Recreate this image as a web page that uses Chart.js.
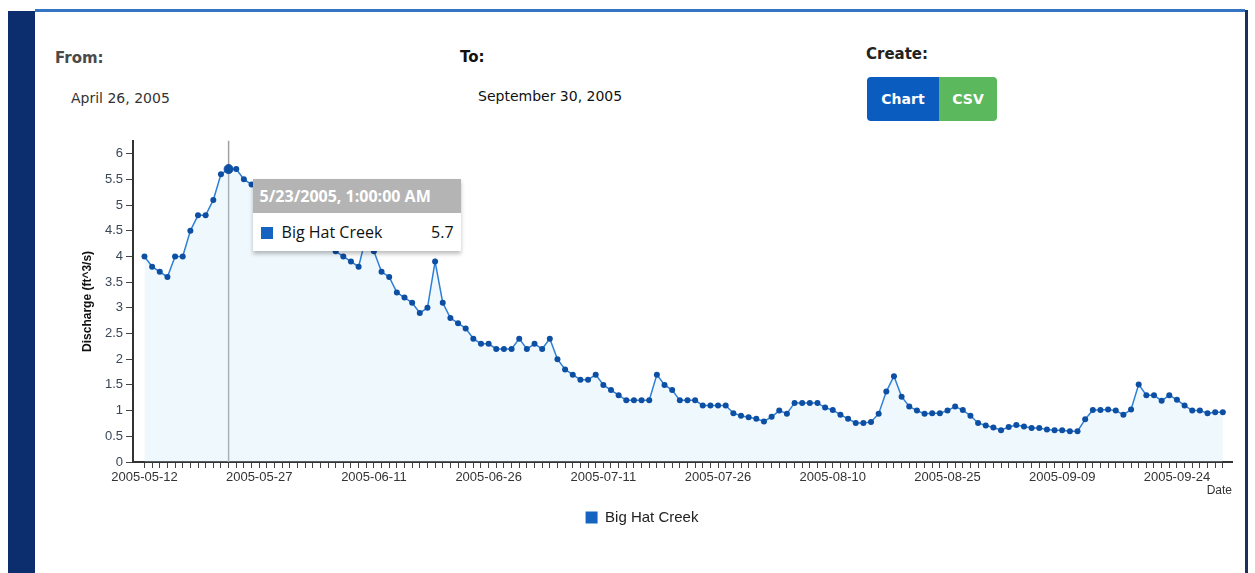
<!DOCTYPE html>
<html>
<head>
<meta charset="utf-8">
<script src="https://cdn.jsdelivr.net/npm/chart.js@4.4.0/dist/chart.umd.min.js"></script>
<style>
  body { margin: 0; width: 1255px; height: 573px; background: #fff; position: relative; overflow: hidden; font-family: "DejaVu Sans", sans-serif; }
  .abs { position: absolute; }
  .lbl { font-weight: bold; font-size: 15px; }
  .val { font-size: 14px; }
  .btn { top: 77px; height: 44px; line-height: 44px; color: #fff; font-weight: bold; font-size: 14px; text-align: center; }
  #wrap { left: 52px; top: 130px; width: 1193px; height: 420px; }
  #tip { display: none; width: 208px; box-shadow: 0 3px 4px rgba(0,0,0,0.25); font-family: "Open Sans", sans-serif; }
  #tip .head { background: #b4b4b4; color: #fff; font-weight: bold; font-size: 16px; height: 34px; line-height: 34px; padding-left: 7px; }
  #tip .body { background: #fff; height: 38px; line-height: 38px; font-size: 16px; color: #111; position: relative; padding-left: 8px; }
  #tip .sq { display: inline-block; width: 12px; height: 12px; background: #1565c0; margin-right: 9px; vertical-align: -1px; }
  #tip .num { position: absolute; right: 7px; top: 0; }
</style>
</head>
<body>
<div class="abs" style="left:35px; top:9px; width:1210px; height:3px; background:#3474c2;"></div>
<div class="abs" style="left:8px; top:11px; width:27px; height:562px; background:#0c2d6e;"></div>
<div class="abs" style="left:1245px; top:10px; width:3px; height:563px; background:#1a2f5e;"></div>

<div class="abs lbl" style="left:55px; top:49px; color:#4a4a4a;">From:</div>
<div class="abs val" style="left:71px; top:90px; color:#333;">April 26, 2005</div>
<div class="abs lbl" style="left:460px; top:48px; color:#111;">To:</div>
<div class="abs val" style="left:478px; top:88px; color:#111;">September 30, 2005</div>
<div class="abs lbl" style="left:866px; top:45px; color:#222;">Create:</div>
<div class="abs btn" style="left:867px; width:72px; background:#0b5cbf; border-radius:4px 0 0 4px;">Chart</div>
<div class="abs btn" style="left:939px; width:58px; background:#5cb85c; border-radius:0 4px 4px 0;">CSV</div>

<div id="wrap" class="abs"><canvas id="chart"></canvas></div>
<div id="tip" class="abs"></div>

<script>
const seriesName = 'Big Hat Creek';
const startDate = [2005, 4, 12];   // 2005-05-12, one reading per day
const tickLabels = ['2005-05-12', '2005-05-27', '2005-06-11', '2005-06-26', '2005-07-11',
                    '2005-07-26', '2005-08-10', '2005-08-25', '2005-09-09', '2005-09-24'];
const yTicks = [0, 0.5, 1, 1.5, 2, 2.5, 3, 3.5, 4, 4.5, 5, 5.5, 6];

// daily discharge, May 12 - Sep 30 2005 (May 27 - Jun 7 partly hidden by the tooltip, estimated)
const discharge = [
  4.0, 3.8, 3.7, 3.6, 4.0, 4.0, 4.5, 4.8, 4.8, 5.1, 5.6, 5.7, 5.7, 5.5, 5.4,
  5.3, 5.2, 5.0, 4.9, 4.8, 4.7, 4.6, 4.5, 4.4, 4.3, 4.1, 4.0, 3.9, 3.8, 4.4,
  4.1, 3.7, 3.6, 3.3, 3.2, 3.1, 2.9, 3.0, 3.9, 3.1, 2.8, 2.7, 2.6, 2.4, 2.3,
  2.3, 2.2, 2.2, 2.2, 2.4, 2.2, 2.3, 2.2, 2.4, 2.0, 1.8, 1.7, 1.6, 1.6, 1.7,
  1.5, 1.4, 1.3, 1.2, 1.2, 1.2, 1.2, 1.7, 1.5, 1.4, 1.2, 1.2, 1.2, 1.1, 1.1,
  1.1, 1.1, 0.95, 0.9, 0.87, 0.84, 0.79, 0.88, 1.0, 0.94, 1.15, 1.15, 1.15, 1.15, 1.06,
  1.01, 0.92, 0.84, 0.76, 0.76, 0.78, 0.94, 1.37, 1.67, 1.27, 1.08, 1.0, 0.94, 0.95, 0.95,
  1.0, 1.08, 1.01, 0.9, 0.76, 0.71, 0.67, 0.62, 0.68, 0.72, 0.69, 0.66, 0.66, 0.63, 0.62,
  0.62, 0.6, 0.6, 0.83, 1.01, 1.01, 1.02, 1.0, 0.92, 1.02, 1.51, 1.3, 1.3, 1.19, 1.3,
  1.21, 1.1, 1.0, 1.0, 0.95, 0.97, 0.97
];
const tooltipIndex = 11;  // 5/23/2005

function dayName(i) {
  const d = new Date(Date.UTC(startDate[0], startDate[1], startDate[2] + i));
  return (d.getUTCMonth() + 1) + '/' + d.getUTCDate() + '/' + d.getUTCFullYear() + ', 1:00:00 AM';
}

Chart.defaults.font.family = '"Liberation Sans", Arial, sans-serif';
Chart.defaults.color = '#333';

const crosshair = {
  id: 'crosshair',
  beforeDatasetsDraw(chart) {
    const act = chart.tooltip.getActiveElements();
    if (!act.length) return;
    const x = act[0].element.x;
    const ctx = chart.ctx;
    ctx.save();
    ctx.strokeStyle = '#a0a0a0';
    ctx.lineWidth = 1.5;
    ctx.beginPath();
    ctx.moveTo(x, chart.chartArea.top);
    ctx.lineTo(x, chart.chartArea.bottom);
    ctx.stroke();
    ctx.restore();
  }
};

function externalTip(context) {
  const t = context.tooltip;
  const el = document.getElementById('tip');
  if (t.opacity === 0) { el.style.display = 'none'; return; }
  const p = t.dataPoints[0];
  el.innerHTML = '<div class="head">' + t.title[0] + '</div>' +
    '<div class="body"><span class="sq"></span>' + p.dataset.label +
    '<span class="num">' + p.parsed.y + '</span></div>';
  const wrap = document.getElementById('wrap');
  el.style.display = 'block';
  el.style.left = (wrap.offsetLeft + t.caretX + 24) + 'px';
  el.style.top = (wrap.offsetTop + t.caretY + 10) + 'px';
}

const chart = new Chart(document.getElementById('chart'), {
  type: 'line',
  data: {
    datasets: [{
      label: seriesName,
      data: discharge.map((v, i) => ({ x: i, y: v })),
      borderColor: '#2e7fd6',
      borderWidth: 1.5,
      backgroundColor: 'rgba(190, 228, 244, 0.25)',
      fill: 'origin',
      tension: 0,
      pointRadius: 3,
      pointBackgroundColor: '#0d4fa3',
      pointBorderColor: '#0d4fa3',
      pointBorderWidth: 0,
      pointHoverRadius: 4.5,
      pointHoverBackgroundColor: '#0d4fa3',
      pointHoverBorderColor: '#0d4fa3'
    }]
  },
  options: {
    responsive: true,
    maintainAspectRatio: false,
    animation: false,
    events: [],
    layout: { padding: { top: 7, right: 13, left: 0, bottom: 15 } },
    scales: {
      x: {
        type: 'linear',
        min: -1.5,
        max: 142.2,
        afterBuildTicks: (s) => { s.ticks = discharge.map((v, i) => ({ value: i })); },
        afterFit: (s) => { s.height = 38; },
        ticks: {
          autoSkip: false,
          maxRotation: 0,
          padding: 2,
          font: { size: 13 },
          color: '#333',
          callback: (v) => (v % 15 === 0 ? tickLabels[v / 15] : '')
        },
        grid: { drawOnChartArea: false, drawTicks: true, tickLength: 6, color: '#444' },
        border: { display: true, color: '#333', width: 2 },
        title: { display: true, text: 'Date', align: 'end', font: { size: 12 }, color: '#333', padding: { top: 0, bottom: 2 } }
      },
      y: {
        min: 0,
        max: 6.25,
        afterBuildTicks: (s) => { s.ticks = yTicks.map(v => ({ value: v })); },
        afterFit: (s) => { s.width = 81; },
        ticks: { font: { size: 13 }, color: '#3a4656', padding: 3, callback: (v) => String(v) },
        grid: { drawOnChartArea: false, drawTicks: true, tickLength: 7, color: '#444' },
        border: { display: true, color: '#333', width: 2 },
        title: { display: true, text: 'Discharge (ft^3/s)', font: { size: 12, weight: 'bold' }, color: '#111', padding: { top: 28, bottom: 0 } }
      }
    },
    plugins: {
      legend: {
        position: 'bottom',
        labels: {
          boxWidth: 12,
          boxHeight: 12,
          padding: 10,
          color: '#222',
          font: { size: 15 },
          generateLabels: (c) => Chart.defaults.plugins.legend.labels.generateLabels(c)
            .map(l => Object.assign(l, { fillStyle: '#1565c0', strokeStyle: '#1565c0', lineWidth: 0 }))
        }
      },
      tooltip: {
        enabled: false,
        external: externalTip,
        callbacks: { title: (items) => dayName(items[0].dataIndex) }
      }
    }
  },
  plugins: [crosshair]
});

const act = [{ datasetIndex: 0, index: tooltipIndex }];
chart.setActiveElements(act);
const pt = chart.getDatasetMeta(0).data[tooltipIndex];
chart.tooltip.setActiveElements(act, { x: pt.x, y: pt.y });
chart.update();
</script>
</body>
</html>
